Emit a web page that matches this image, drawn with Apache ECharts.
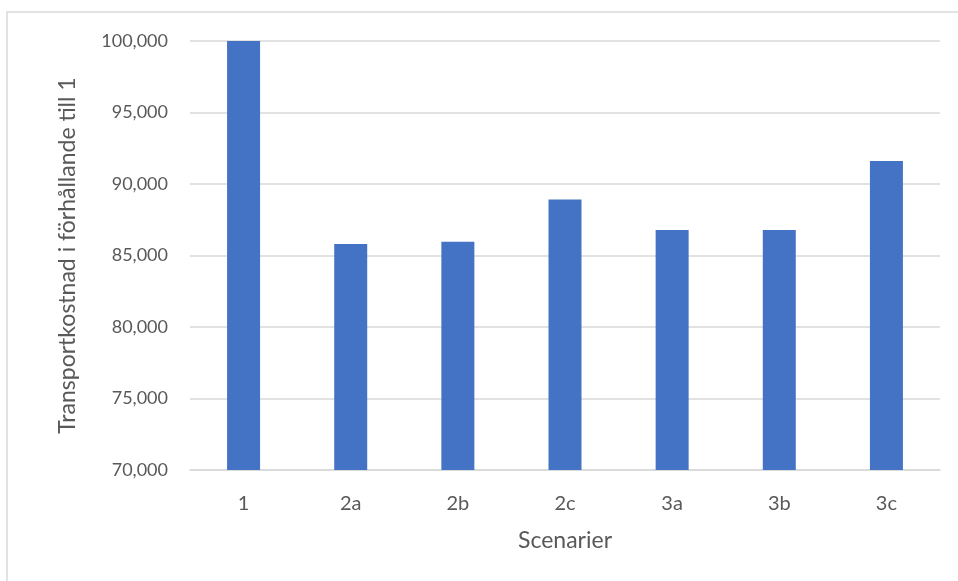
<!DOCTYPE html>
<html>
<head>
<meta charset="utf-8">
<script src="https://cdn.jsdelivr.net/npm/echarts@6/dist/echarts.min.js"></script>
<style>
  html, body { margin: 0; padding: 0; background: #ffffff; }
  #chart { width: 958px; height: 581px; }
</style>
</head>
<body>
<div id="chart"></div>
<script>
// Transport cost per scenario, relative to scenario 1
const scenarios = ['1', '2a', '2b', '2c', '3a', '3b', '3c'];
const costs = [100000, 85810, 85970, 88910, 86780, 86780, 91600];
const yMin = 70000;
const yMax = 100000;
const yStep = 5000;

const textColor = '#595959';
const lineColor = '#d9d9d9';
const fontFamily = 'Lato, "Open Sans", sans-serif';

const chart = echarts.init(document.getElementById('chart'), null, { renderer: 'canvas' });

chart.setOption({
  animation: false,
  backgroundColor: '#ffffff',
  graphic: [
    {
      type: 'rect',
      shape: { x: 7, y: 12, width: 1000, height: 700 },
      style: { fill: 'none', stroke: lineColor, lineWidth: 1.5 },
      silent: true
    }
  ],
  grid: { left: 190, right: 18, top: 41, bottom: 111 },
  xAxis: {
    type: 'category',
    data: scenarios,
    name: 'Scenarier',
    nameLocation: 'middle',
    nameGap: 59,
    nameTextStyle: { color: textColor, fontSize: 23, fontFamily: fontFamily },
    axisLine: { lineStyle: { color: lineColor, width: 1.5 } },
    axisTick: { show: false },
    axisLabel: { color: textColor, fontSize: 20, fontFamily: fontFamily, margin: 24 }
  },
  yAxis: {
    type: 'value',
    min: yMin,
    max: yMax,
    interval: yStep,
    name: 'Transportkostnad i förhållande till 1',
    nameLocation: 'middle',
    nameGap: 111,
    nameTextStyle: { color: textColor, fontSize: 23, fontFamily: fontFamily },
    axisLine: { show: false },
    axisTick: { show: false },
    splitLine: { lineStyle: { color: lineColor, width: 1.5 } },
    axisLabel: {
      color: textColor,
      fontSize: 18,
      fontFamily: fontFamily,
      margin: 22,
      formatter: v => v.toLocaleString('en-US')
    }
  },
  series: [
    {
      type: 'bar',
      data: costs,
      barWidth: 33,
      itemStyle: { color: '#4472c4' }
    }
  ]
});
</script>
</body>
</html>
